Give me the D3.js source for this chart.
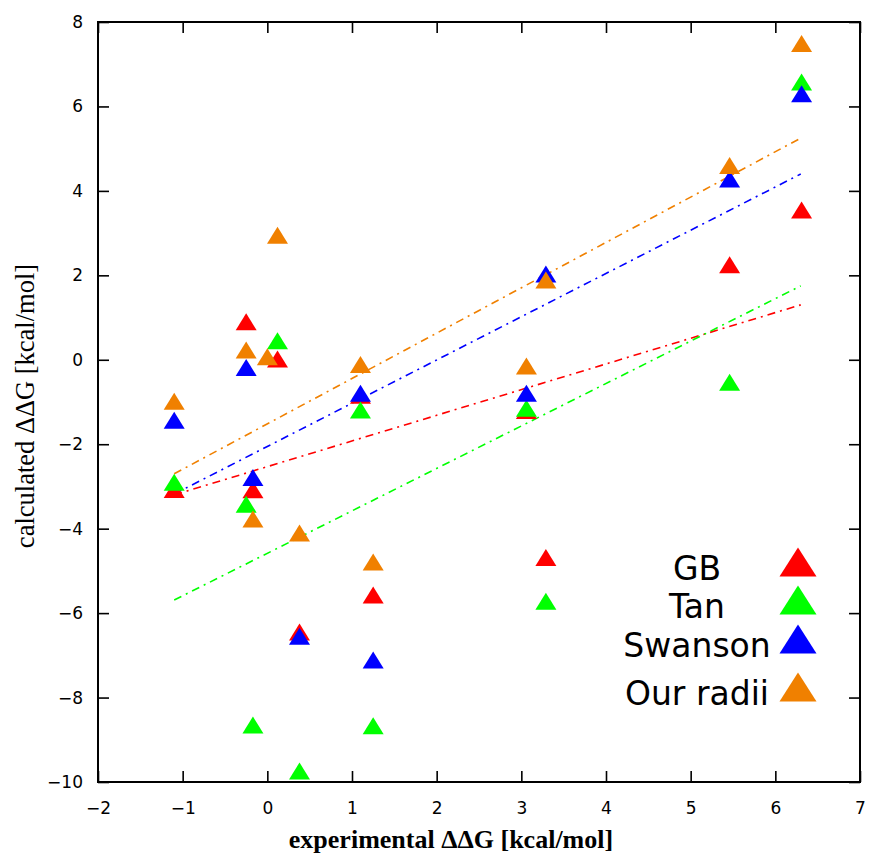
<!DOCTYPE html>
<html>
<head>
<meta charset="utf-8">
<script src="https://cdn.jsdelivr.net/npm/d3@7"></script>
<style>
  html, body { margin: 0; padding: 0; background: #fff; }
  svg { display: block; }
</style>
</head>
<body>
<script>
// ---------- data ----------
const seriesNames = ["GB", "Tan", "Swanson", "Our radii"];
const seriesColors = ["#ff0000", "#00ff00", "#0000ff", "#f08000"];

const gbX = [-1.1, -0.25, -0.17, 0.12, 0.38, 1.1, 1.25, 3.06, 3.29, 5.46, 6.31];
const gbY = [-3.07, 0.9, -3.08, 0.02, -6.45, -0.84, -5.57, -1.2, -4.68, 2.25, 3.55];

const tanX = [-1.1, -0.25, -0.17, 0.12, 0.38, 1.1, 1.25, 3.06, 3.29, 5.46, 6.31];
const tanY = [-2.9, -3.42, -8.65, 0.45, -9.74, -1.19, -8.67, -1.15, -5.72, -0.53, 6.58];

const swansonX = [-1.1, -0.25, -0.17, 0.38, 1.1, 1.25, 3.06, 3.29, 5.46, 6.31];
const swansonY = [-1.43, -0.18, -2.79, -6.55, -0.79, -7.11, -0.79, 2.03, 4.28, 6.3];

const ourX = [-1.1, -0.25, -0.17, 0.0, 0.12, 0.38, 1.1, 1.25, 3.06, 3.29, 5.46, 6.31];
const ourY = [-0.98, 0.23, -3.77, 0.07, 2.95, -4.1, -0.11, -4.79, -0.15, 1.89, 4.6, 7.49];

// fitted lines: value at x start / x end
const fitX = [-1.1, 6.3];
const fitYStart = [-3.2, -5.69, -3.18, -2.70];
const fitYEnd = [1.30, 1.75, 4.40, 5.25];

const xTicks = [-2, -1, 0, 1, 2, 3, 4, 5, 6, 7];
const yTicks = [-10, -8, -6, -4, -2, 0, 2, 4, 6, 8];

const xLabel = "experimental \u0394\u0394G [kcal/mol]";
const yLabel = "calculated \u0394\u0394G [kcal/mol]";

// ---------- layout ----------
const W = 870, H = 859;
const plot = { left: 98, right: 860, top: 22, bottom: 782 };

const svg = d3.select("body").append("svg").attr("width", W).attr("height", H);

const x = d3.scaleLinear().domain([-2, 7]).range([plot.left, plot.right]);
const y = d3.scaleLinear().domain([-10, 8]).range([plot.bottom, plot.top]);

const tickFont = "'DejaVu Sans', sans-serif";
const serif = "'Liberation Serif', 'Times New Roman', serif";

// axes with inward ticks (mirrored)
const tickLen = 11;
function styleAxis(g) {
  g.select(".domain").remove();
  g.selectAll(".tick line").attr("stroke", "#000").attr("stroke-width", 1.6);
}
svg.append("g").attr("transform", `translate(0,${plot.bottom})`)
  .call(d3.axisBottom(x).tickValues(xTicks).tickSize(-tickLen).tickPadding(20).tickFormat(d3.format("d")))
  .call(styleAxis)
  .call(g => g.selectAll(".tick text").attr("font-family", tickFont).attr("font-size", 17).attr("fill", "#000").attr("dy", "0.71em"));
svg.append("g").attr("transform", `translate(0,${plot.top})`)
  .call(d3.axisTop(x).tickValues(xTicks).tickSize(-tickLen).tickFormat(""))
  .call(styleAxis);
svg.append("g").attr("transform", `translate(${plot.left},0)`)
  .call(d3.axisLeft(y).tickValues(yTicks).tickSize(-tickLen).tickPadding(15).tickFormat(d3.format("d")))
  .call(styleAxis)
  .call(g => g.selectAll(".tick text").attr("font-family", tickFont).attr("font-size", 17).attr("fill", "#000"));
svg.append("g").attr("transform", `translate(${plot.right},0)`)
  .call(d3.axisRight(y).tickValues(yTicks).tickSize(-tickLen).tickFormat(""))
  .call(styleAxis);

// frame
svg.append("rect")
  .attr("x", plot.left).attr("y", plot.top)
  .attr("width", plot.right - plot.left).attr("height", plot.bottom - plot.top)
  .attr("fill", "none").attr("stroke", "#000").attr("stroke-width", 2);

// fit lines
seriesNames.forEach((n, i) => {
  svg.append("line")
    .attr("x1", x(fitX[0])).attr("y1", y(fitYStart[i]))
    .attr("x2", x(fitX[1])).attr("y2", y(fitYEnd[i]))
    .attr("stroke", seriesColors[i]).attr("stroke-width", 1.6)
    .attr("stroke-dasharray", "8,5,2,5");
});

// triangles
function tri(cx, cy, w, h) {
  return `M${cx},${cy - h / 2}L${cx + w / 2},${cy + h / 2}L${cx - w / 2},${cy + h / 2}Z`;
}
const allX = [gbX, tanX, swansonX, ourX];
const allY = [gbY, tanY, swansonY, ourY];
seriesNames.forEach((n, i) => {
  const pts = allX[i].map((v, j) => [v, allY[i][j]]);
  svg.append("g").selectAll("path").data(pts).join("path")
    .attr("d", d => tri(x(d[0]), y(d[1]), 21, 17))
    .attr("fill", seriesColors[i]);
});

// legend
const legendBaselines = [580, 618, 657, 705];
const legend = svg.append("g");
seriesNames.forEach((n, i) => {
  legend.append("text")
    .attr("x", 697).attr("y", legendBaselines[i])
    .attr("text-anchor", "middle")
    .attr("font-family", tickFont).attr("font-size", 33)
    .attr("fill", "#000").text(n);
  legend.append("path")
    .attr("d", tri(798, legendBaselines[i] - 18, 37, 29))
    .attr("fill", seriesColors[i]);
});

// axis labels
svg.append("text")
  .attr("x", 451).attr("y", 848)
  .attr("text-anchor", "middle")
  .attr("font-family", serif).attr("font-weight", "bold").attr("font-size", 26)
  .attr("fill", "#000").text(xLabel);
svg.append("text")
  .attr("transform", "translate(34,406) rotate(-90)")
  .attr("text-anchor", "middle")
  .attr("font-family", serif).attr("font-size", 26.5)
  .attr("fill", "#000").text(yLabel);
</script>
</body>
</html>
